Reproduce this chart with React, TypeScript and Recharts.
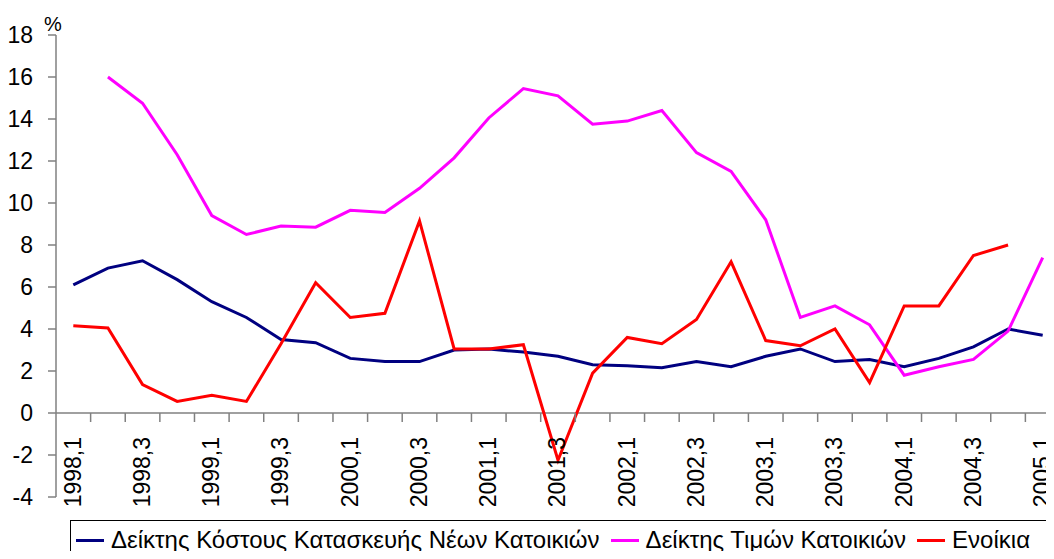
import { LineChart, Line, XAxis, YAxis, ReferenceLine, Legend } from "recharts";

const quarters = [
  "1998,1", "1998,2", "1998,3", "1998,4",
  "1999,1", "1999,2", "1999,3", "1999,4",
  "2000,1", "2000,2", "2000,3", "2000,4",
  "2001,1", "2001,2", "2001,3", "2001,4",
  "2002,1", "2002,2", "2002,3", "2002,4",
  "2003,1", "2003,2", "2003,3", "2003,4",
  "2004,1", "2004,2", "2004,3", "2004,4",
  "2005,1",
];

// Δείκτης Κόστους Κατασκευής Νέων Κατοικιών
const constructionCost = [
  6.1, 6.9, 7.25, 6.35, 5.3, 4.55, 3.5, 3.35, 2.6, 2.45, 2.45, 3.0, 3.05, 2.9,
  2.7, 2.3, 2.25, 2.15, 2.45, 2.2, 2.7, 3.05, 2.45, 2.55, 2.2, 2.6, 3.15, 4.0, 3.7,
];

// Δείκτης Τιμών Κατοικιών
const housePrices = [
  null, 16.0, 14.75, 12.3, 9.4, 8.5, 8.9, 8.85, 9.65, 9.55, 10.7, 12.15, 14.05,
  15.45, 15.1, 13.75, 13.9, 14.4, 12.4, 11.5, 9.2, 4.55, 5.1, 4.2, 1.8, 2.2, 2.55,
  3.9, 7.4,
];

// Ενοίκια
const rents = [
  4.15, 4.05, 1.35, 0.55, 0.85, 0.55, 3.3, 6.2, 4.55, 4.75, 9.15, 3.05, 3.05,
  3.25, -2.25, 1.9, 3.6, 3.3, 4.45, 7.2, 3.45, 3.2, 4.0, 1.45, 5.1, 5.1, 7.5,
  8.0, null,
];

const yTicks = [-4, -2, 0, 2, 4, 6, 8, 10, 12, 14, 16, 18];

const data = quarters.map((q, i) => ({
  q,
  cost: constructionCost[i],
  price: housePrices[i],
  rent: rents[i],
}));

const FONT = "'Liberation Sans', Arial, sans-serif";
const AXIS_GRAY = "#808080";

const CHART_W = 1060;
const CHART_H = 559;
const Y_AXIS_W = 56;
const M_TOP = 35;
const PLOT_H = 462;
const LEGEND_H = 40;
const XAXIS_H = 1;
const M_BOTTOM = CHART_H - M_TOP - PLOT_H - LEGEND_H - XAXIS_H;
const PLOT_W = CHART_W - Y_AXIS_W;
const STEP = PLOT_W / quarters.length;
const Y_MIN = -4;
const Y_MAX = 18;
const ZERO_Y = M_TOP + (Y_MAX / (Y_MAX - Y_MIN)) * PLOT_H;

const renderXTick = (props: any) => {
  const { x, index, payload } = props;
  return (
    <g>
      <line
        x1={x + STEP / 2}
        x2={x + STEP / 2}
        y1={ZERO_Y}
        y2={ZERO_Y + 9}
        stroke={AXIS_GRAY}
        strokeWidth={1.5}
      />
      {index % 2 === 0 && (
        <text
          x={0}
          y={0}
          dy="0.32em"
          transform={`translate(${x},${ZERO_Y + 24}) rotate(-90)`}
          textAnchor="end"
          fontSize={23}
          fontFamily={FONT}
          fill="#000"
        >
          {payload.value}
        </text>
      )}
    </g>
  );
};

const renderLegend = (props: any) => {
  const { payload } = props;
  return (
    <div
      style={{
        boxSizing: "border-box",
        height: LEGEND_H,
        border: "1px solid #000",
        background: "#fff",
        display: "flex",
        alignItems: "center",
        paddingLeft: 5,
        fontSize: 24,
        fontFamily: FONT,
        color: "#000",
        whiteSpace: "nowrap",
      }}
    >
      {payload.map((item: any) => (
        <div
          key={item.value}
          style={{ display: "flex", alignItems: "center", marginRight: 11 }}
        >
          <span
            style={{
              display: "inline-block",
              width: 28,
              height: 3,
              background: item.color,
              marginRight: 7,
            }}
          />
          <span>{item.value}</span>
        </div>
      ))}
    </div>
  );
};

export default function App() {
  return (
    <div
      style={{
        margin: -8,
        width: 1054,
        height: 559,
        overflow: "hidden",
        position: "relative",
        background: "#fff",
        fontFamily: FONT,
      }}
    >
      <LineChart
        width={CHART_W}
        height={CHART_H}
        data={data}
        margin={{ top: M_TOP, right: 0, left: 0, bottom: M_BOTTOM }}
      >
        <XAxis
          dataKey="q"
          interval={0}
          height={XAXIS_H}
          axisLine={false}
          tickLine={false}
          padding={{ left: STEP / 2, right: STEP / 2 }}
          tick={renderXTick}
        />
        <YAxis
          width={Y_AXIS_W}
          domain={[Y_MIN, Y_MAX]}
          ticks={yTicks}
          interval={0}
          allowDataOverflow
          axisLine={{ stroke: AXIS_GRAY, strokeWidth: 1.5 }}
          tickLine={{ stroke: AXIS_GRAY, strokeWidth: 1.5 }}
          tickSize={8}
          tickMargin={15}
          tick={{ fontSize: 23, fontFamily: FONT, fill: "#000" }}
          label={{
            content: (p: any) => (
              <text
                x={p.viewBox.x + p.viewBox.width - 3}
                y={p.viewBox.y - 4}
                textAnchor="middle"
                fontSize={20}
                fontFamily={FONT}
                fill="#000"
              >
                %
              </text>
            ),
          }}
        />
        <ReferenceLine y={0} stroke={AXIS_GRAY} strokeWidth={1.5} />
        <Line
          type="linear"
          dataKey="cost"
          name="Δείκτης Κόστους Κατασκευής Νέων Κατοικιών"
          stroke="#000080"
          strokeWidth={3}
          dot={false}
          isAnimationActive={false}
        />
        <Line
          type="linear"
          dataKey="price"
          name="Δείκτης Τιμών Κατοικιών"
          stroke="#FF00FF"
          strokeWidth={3}
          dot={false}
          isAnimationActive={false}
        />
        <Line
          type="linear"
          dataKey="rent"
          name="Ενοίκια"
          stroke="#FF0000"
          strokeWidth={3}
          dot={false}
          isAnimationActive={false}
        />
        <Legend
          content={renderLegend}
          width={978}
          wrapperStyle={{ left: 70, top: 520, width: 978, height: LEGEND_H }}
        />
      </LineChart>
    </div>
  );
}
